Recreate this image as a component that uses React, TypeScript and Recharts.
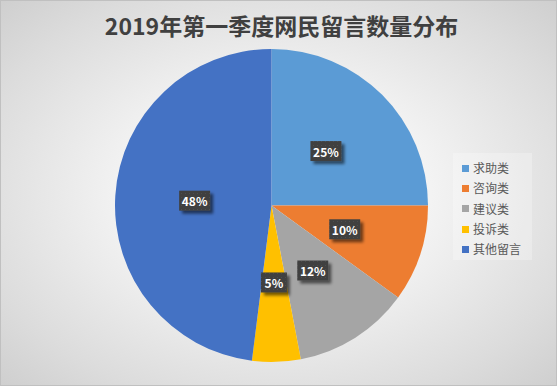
import React from 'react';
import { PieChart, Pie, Cell, Legend } from 'recharts';

const categories = ['求助类', '咨询类', '建议类', '投诉类', '其他留言'];
const values = [25, 10, 12, 5, 48];
const colors = ['#5B9BD5', '#ED7D31', '#A5A5A5', '#FFC000', '#4472C4'];
const title = '2019年第一季度网民留言数量分布';

const data = categories.map((name, i) => ({ name, value: values[i] }));

const RADIAN = Math.PI / 180;
const FONT = '"Noto Sans CJK SC", "Noto Sans", sans-serif';

const renderLabel = (props: any) => {
  const { cx, cy, midAngle, outerRadius, percent, index } = props;
  const r = outerRadius * 0.492;
  const x = cx + r * Math.cos(-midAngle * RADIAN);
  const y = cy + r * Math.sin(-midAngle * RADIAN);
  const text = `${Math.round(percent * 100)}%`;
  const w = text.length >= 3 ? 31 : 26;
  const h = 20;
  const pid = `dots${index}`;
  const fid = `shadow${index}`;
  return (
    <g key={`lbl${index}`}>
      <defs>
        <pattern id={pid} width="4" height="4" patternUnits="userSpaceOnUse">
          <rect width="4" height="4" fill="#404040" />
          <rect x="1" y="1" width="1" height="1" fill="#4d4d4d" />
        </pattern>
        <filter id={fid} x="-50%" y="-50%" width="200%" height="200%">
          <feGaussianBlur in="SourceAlpha" stdDeviation="1.5" />
          <feOffset dx="3" dy="3" result="b" />
          <feComponentTransfer>
            <feFuncA type="linear" slope="0.55" />
          </feComponentTransfer>
          <feMerge>
            <feMergeNode />
            <feMergeNode in="SourceGraphic" />
          </feMerge>
        </filter>
      </defs>
      <rect x={x - w / 2} y={y - h / 2} width={w} height={h} fill={`url(#${pid})`} filter={`url(#${fid})`} />
      <text
        x={x}
        y={y}
        fill="#ffffff"
        fontSize={12}
        fontWeight="bold"
        fontFamily={FONT}
        textAnchor="middle"
        dominantBaseline="central"
      >
        {text}
      </text>
    </g>
  );
};

const renderLegend = () => (
  <div
    style={{
      width: 79,
      height: 107,
      background: 'rgba(255,255,255,0.25)',
      boxSizing: 'border-box',
      paddingTop: 5,
      paddingLeft: 9,
      fontFamily: FONT,
    }}
  >
    {categories.map((c, i) => (
      <div key={c} style={{ display: 'flex', alignItems: 'center', height: 20.3 }}>
        <span style={{ display: 'inline-block', width: 7, height: 7, background: colors[i], marginRight: 4 }} />
        <span style={{ fontSize: 12, color: '#595959', lineHeight: '14px' }}>{c}</span>
      </div>
    ))}
  </div>
);

export default function App() {
  return (
    <div
      style={{
        position: 'absolute',
        left: 0,
        top: 0,
        width: 557,
        height: 386,
        boxSizing: 'border-box',
        border: '1px solid #c0c0c0',
        background: 'radial-gradient(ellipse 75% 75% at 50% 50%, #ffffff 0%, #f4f4f4 35%, #dcdcdc 75%, #cbcbcb 100%)',
        overflow: 'hidden',
      }}
    >
      <div
        style={{
          position: 'absolute',
          left: 0,
          top: 8,
          width: 557,
          textAlign: 'center',
          fontFamily: FONT,
          fontWeight: 'bold',
          fontSize: 23,
          lineHeight: '32px',
          color: '#404040',
          paddingLeft: 4,
          boxSizing: 'border-box',
        }}
      >
        {title}
      </div>
      <div style={{ position: 'absolute', left: -1, top: -1 }}>
        <PieChart width={557} height={386} margin={{ top: 0, right: 0, bottom: 0, left: 0 }}>
          <Pie
            data={data}
            dataKey="value"
            nameKey="name"
            cx={271.5}
            cy={205.5}
            outerRadius={156.5}
            startAngle={90}
            endAngle={-270}
            stroke="none"
            label={renderLabel}
            labelLine={false}
            isAnimationActive={false}
          >
            {data.map((d, i) => (
              <Cell key={d.name} fill={colors[i]} />
            ))}
          </Pie>
          <Legend
            content={renderLegend}
            layout="vertical"
            wrapperStyle={{ position: 'absolute', left: 453, top: 153, width: 79, height: 107 }}
          />
        </PieChart>
      </div>
    </div>
  );
}
